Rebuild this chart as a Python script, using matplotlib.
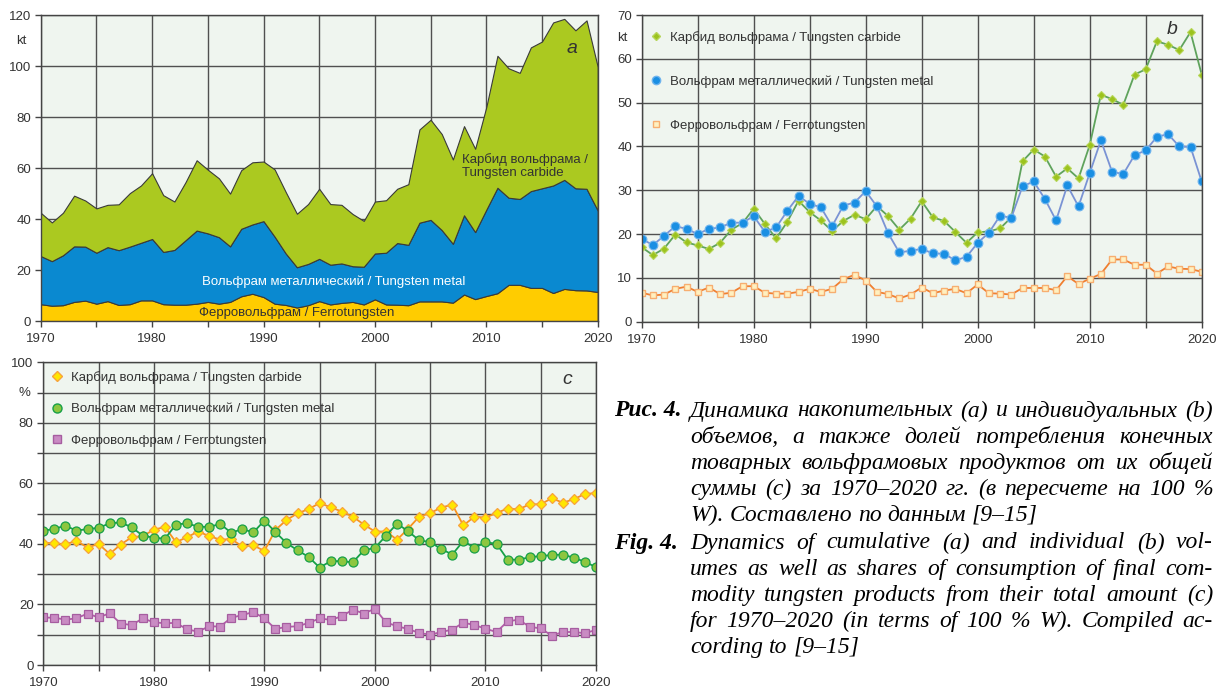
import numpy as np
import matplotlib.pyplot as plt
from matplotlib.lines import Line2D
from matplotlib.ticker import MultipleLocator

plt.rcParams['font.family'] = 'Liberation Sans'

years = np.arange(1970, 2021)

# потребление, тыс. т (в пересчете на 100 % W)
carbide_kt = [17.0, 15.2, 16.7, 19.9, 18.1, 17.4, 16.6, 18.0, 21.0, 22.5,
              25.8, 22.3, 19.0, 22.8, 27.6, 25.0, 23.1, 20.7, 23.0, 24.4,
              23.4, 26.4, 24.1, 21.0, 23.5, 27.5, 23.8, 23.0, 20.5, 18.0,
              20.4, 20.6, 21.3, 23.8, 36.6, 39.3, 37.7, 33.1, 35.0, 32.7,
              40.3, 51.8, 50.8, 49.5, 56.4, 57.6, 64.0, 63.2, 62.0, 66.1,
              56.4]
metal_kt = [18.9, 17.5, 19.6, 21.8, 21.2, 20.0, 21.2, 21.5, 22.6, 22.6,
            24.1, 20.5, 21.5, 25.3, 28.7, 26.9, 26.1, 21.8, 26.5, 27.2,
            29.8, 26.3, 20.2, 15.8, 16.2, 16.6, 15.6, 15.5, 14.0, 14.8,
            18.0, 20.3, 24.2, 23.7, 30.9, 32.0, 28.0, 23.1, 31.1, 26.3,
            33.9, 41.4, 34.2, 33.7, 38.0, 39.1, 42.2, 42.8, 40.0, 39.9,
            32.0]
ferro_kt = [6.6, 6.0, 6.2, 7.5, 8.0, 6.8, 7.8, 6.3, 6.6, 8.1,
            8.1, 6.6, 6.4, 6.4, 6.8, 7.5, 6.8, 7.5, 9.7, 10.7,
            9.4, 6.8, 6.3, 5.3, 6.2, 7.8, 6.5, 7.1, 7.5, 6.5,
            8.5, 6.5, 6.4, 6.2, 7.7, 7.7, 7.7, 7.2, 10.4, 8.6,
            9.8, 10.9, 14.2, 14.2, 13.0, 13.0, 11.0, 12.6, 12.1, 12.0,
            11.4]

# доли от общей суммы, %
carbide_pct = [40.4, 40.2, 39.9, 41.0, 38.8, 40.0, 36.7, 39.8, 42.2, 42.6,
               44.7, 45.6, 40.6, 42.2, 44.1, 42.6, 41.4, 41.6, 39.2, 39.5,
               37.7, 44.6, 47.9, 50.1, 51.5, 53.5, 52.1, 50.7, 49.0, 46.4,
               44.1, 44.1, 41.4, 45.0, 49.0, 50.2, 52.0, 53.0, 46.1, 49.0,
               48.7, 50.2, 51.7, 51.4, 53.1, 53.1, 55.1, 53.6, 54.8, 56.5,
               56.8]
metal_pct = [44.3, 45.0, 46.0, 44.4, 44.9, 45.3, 46.8, 47.1, 45.5, 42.7,
             42.1, 41.7, 46.4, 46.8, 45.7, 45.6, 46.6, 43.7, 44.9, 43.8,
             47.7, 43.9, 40.3, 37.9, 35.7, 32.2, 34.3, 34.3, 33.9, 37.9,
             38.7, 42.7, 46.7, 44.2, 41.2, 40.6, 38.3, 36.5, 41.0, 38.7,
             40.5, 40.1, 34.8, 34.8, 35.6, 36.0, 36.3, 36.5, 35.4, 34.1,
             32.3]
ferro_pct = [15.7, 15.6, 15.0, 15.4, 17.0, 15.7, 17.1, 13.7, 13.2, 15.4,
             14.1, 13.8, 13.9, 11.8, 11.0, 12.8, 12.7, 15.6, 16.5, 17.5,
             15.4, 11.9, 12.6, 12.8, 13.9, 15.4, 14.9, 16.1, 18.3, 17.0,
             18.6, 14.1, 12.8, 11.9, 10.6, 10.0, 10.9, 11.7, 14.0, 13.2,
             12.0, 10.9, 14.4, 15.0, 12.6, 12.1, 9.7, 10.9, 10.9, 10.5,
             11.6]

LBL_CARBIDE = 'Карбид вольфрама / Tungsten carbide'
LBL_METAL = 'Вольфрам металлический / Tungsten metal'
LBL_FERRO = 'Ферровольфрам / Ferrotungsten'

caption_ru = ['Динамика накопительных (a) и индивидуальных (b)',
              'объемов, а также долей потребления конечных',
              'товарных вольфрамовых продуктов от их общей',
              'суммы (c) за 1970–2020 гг. (в пересчете на 100 %',
              'W). Составлено по данным [9–15]']
caption_en = ['Dynamics of cumulative (a) and individual (b) vol-',
              'umes as well as shares of consumption of final com-',
              'modity tungsten products from their total amount (c)',
              'for 1970–2020 (in terms of 100 % W). Compiled ac-',
              'cording to [9–15]']

BG = '#EFF5EF'
GRID = '#505050'
TXT = '#333333'

W, H = 1219, 689
fig = plt.figure(figsize=(W / 100, H / 100), dpi=100)


def add_axes_px(left, top, right, bottom):
    return fig.add_axes([left / W, 1 - bottom / H, (right - left) / W, (bottom - top) / H])


def style_axes(ax, ymax, ylabel_step, ygrid_step, unit, unit_y):
    ax.set_facecolor(BG)
    ax.set_xlim(1970, 2020)
    ax.set_ylim(0, ymax)
    ax.xaxis.set_major_locator(MultipleLocator(10))
    ax.xaxis.set_minor_locator(MultipleLocator(5))
    ax.yaxis.set_major_locator(MultipleLocator(ylabel_step))
    ax.yaxis.set_minor_locator(MultipleLocator(ygrid_step))
    ax.grid(which='both', color=GRID, lw=1.0)
    ax.set_axisbelow(True)
    ax.tick_params(which='both', direction='out', length=4, width=1,
                   color='#444444', labelcolor=TXT, labelsize=9.5, pad=3)
    ax.tick_params(axis='x', pad=5)
    for s in ax.spines.values():
        s.set_color('#444444')
        s.set_linewidth(1.0)
    ax.text(1968.3, unit_y, unit, ha='center', va='center', fontsize=9.5, color=TXT)


# (a) накопительные объемы
ax_a = add_axes_px(40.7, 15.3, 597.7, 321)
style_axes(ax_a, 120, 20, 20, 'kt', 110)
ax_a.stackplot(years, ferro_kt, metal_kt, carbide_kt,
               colors=['#FFCC00', '#0A89D0', '#ABC920'],
               edgecolor='#3A3A3A', linewidth=0.8)
ax_a.text(2007.8, 61, 'Карбид вольфрама /\nTungsten carbide',
          ha='left', va='center', fontsize=9.5, color=TXT, linespacing=1.1)
ax_a.text(1984.45, 15.3, LBL_METAL, ha='left', va='center', fontsize=9.5, color='white')
ax_a.text(1984.2, 3.2, LBL_FERRO, ha='left', va='center', fontsize=9.5, color=TXT)
ax_a.text(2017.7, 106.8, 'a', ha='center', va='center', fontsize=14,
          style='italic', color=TXT)

# (b) индивидуальные объемы
ax_b = add_axes_px(641.7, 15, 1201.7, 321.7)
style_axes(ax_b, 70, 10, 10, 'kt', 64.7)
ax_b.plot(years, carbide_kt, color='#5FA35C', lw=1.3, marker='D', ms=4.2,
          mfc='#9CC31E', mec='#B7D65A', mew=0.8)
ax_b.plot(years, metal_kt, color='#7A93D4', lw=1.3, marker='o', ms=6.3,
          mfc='#1A8FE3', mec='#6DB3EE', mew=0.8)
ax_b.plot(years, ferro_kt, color='#F07F30', lw=1.3, marker='s', ms=4.6,
          mfc='#FFF0C0', mec='#F7AE70', mew=1.0)
ax_b.text(2017.4, 66.8, 'b', ha='center', va='center', fontsize=14,
          style='italic', color=TXT)
handles_b = [
    Line2D([], [], ls='none', marker='D', ms=4.2, mfc='#9CC31E', mec='#B7D65A'),
    Line2D([], [], ls='none', marker='o', ms=6.0, mfc='#1A8FE3', mec='#6DB3EE'),
    Line2D([], [], ls='none', marker='s', ms=4.6, mfc='#FFF0C0', mec='#F7AE70'),
]
ax_b.legend(handles_b, [LBL_CARBIDE, LBL_METAL, LBL_FERRO], loc='upper left',
            bbox_to_anchor=(0.0184, 0.948), frameon=False, fontsize=9.5,
            labelcolor=TXT, borderpad=0, borderaxespad=0, handlelength=0.6,
            handletextpad=0.75, labelspacing=2.4)

# (c) доли
ax_c = add_axes_px(43.3, 362.3, 596, 665)
style_axes(ax_c, 100, 20, 10, '%', 90)
ax_c.plot(years, carbide_pct, color='#F7931E', lw=1.3, marker='D', ms=5,
          mfc='#FFE600', mec='#F7A33C', mew=0.9)
ax_c.plot(years, metal_pct, color='#17A047', lw=1.3, marker='o', ms=6.5,
          mfc='#8DC63F', mec='#17A047', mew=0.9)
ax_c.plot(years, ferro_pct, color='#B35BA9', lw=1.3, marker='s', ms=5.5,
          mfc='#C98BC3', mec='#A65DA0', mew=0.9)
ax_c.text(2017.4, 94.2, 'c', ha='center', va='center', fontsize=14,
          style='italic', color=TXT)
handles_c = [
    Line2D([], [], ls='none', marker='D', ms=5, mfc='#FFE600', mec='#F7A33C'),
    Line2D([], [], ls='none', marker='o', ms=6.5, mfc='#8DC63F', mec='#17A047'),
    Line2D([], [], ls='none', marker='s', ms=5.5, mfc='#C98BC3', mec='#A65DA0'),
]
ax_c.legend(handles_c, [LBL_CARBIDE, LBL_METAL, LBL_FERRO], loc='upper left',
            bbox_to_anchor=(0.0175, 0.972), frameon=False, fontsize=9.5,
            labelcolor=TXT, borderpad=0, borderaxespad=0, handlelength=0.6,
            handletextpad=0.75, labelspacing=1.45)

# подпись к рисунку, выровненная по ширине
renderer = fig.canvas.get_renderer()
CAP = dict(family='Liberation Serif', style='italic', fontsize=17, color='black')


def put_line(line, x0, x1, y, justify):
    words = line.split(' ')
    arts = [fig.text(0, 1 - y / H, w, ha='left', va='center', **CAP) for w in words]
    widths = [a.get_window_extent(renderer).width for a in arts]
    if justify and len(words) > 1:
        gap = (x1 - x0 - sum(widths)) / (len(words) - 1)
    else:
        gap = CAP['fontsize'] * 100 / 72 * 0.25
    x = x0
    for a, w in zip(arts, widths):
        a.set_x(x / W)
        x += w + gap


def put_caption(head, lines, y0, step=26.1):
    fig.text(614 / W, 1 - y0 / H, head, ha='left', va='center',
             weight='bold', **CAP)
    for i, line in enumerate(lines):
        put_line(line, 690, 1213, y0 + i * step, justify=(i < len(lines) - 1))


put_caption('Рис. 4.', caption_ru, 411)
put_caption('Fig. 4.', caption_en, 543)

fig.savefig('out.png', dpi=100)
